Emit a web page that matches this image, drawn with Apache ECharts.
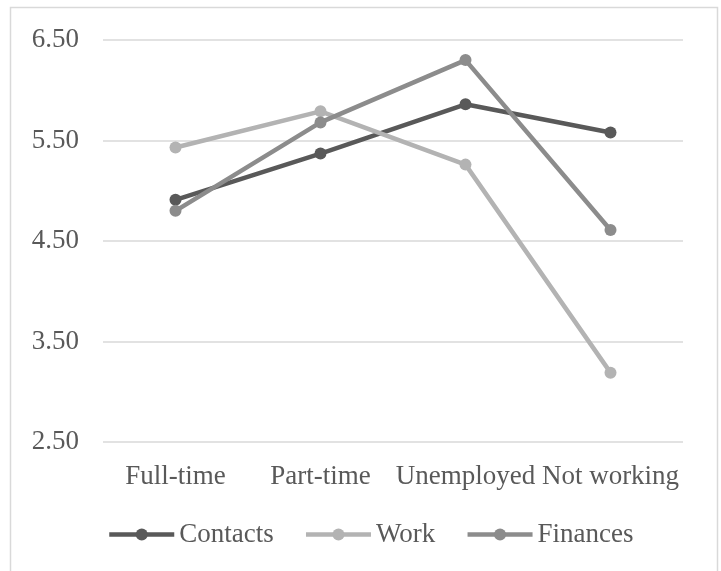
<!DOCTYPE html>
<html>
<head>
<meta charset="utf-8">
<script src="https://cdn.jsdelivr.net/npm/echarts@6/dist/echarts.min.js"></script>
<style>html,body{margin:0;padding:0;background:#fff}#c{width:721px;height:571px}</style>
</head>
<body>
<div id="c"></div>
<script>
var categories = ['Full-time', 'Part-time', 'Unemployed', 'Not working'];
var contacts = [4.91, 5.37, 5.86, 5.58];
var work = [5.43, 5.79, 5.26, 3.19];
var finances = [4.80, 5.68, 6.30, 4.61];
var yTicks = [2.5, 3.5, 4.5, 5.5, 6.5];

var FONT = 'Liberation Serif';
var TXT = '#595959';
var chart = echarts.init(document.getElementById('c'), null, {renderer: 'canvas'});
function mk(name, data, color) {
  return {
    name: name, type: 'line', data: data,
    symbol: 'circle', symbolSize: 12,
    lineStyle: {width: 4.5, color: color},
    itemStyle: {color: color},
    emphasis: {disabled: true},
    animation: false
  };
}
chart.setOption({
  animation: false,
  textStyle: {fontFamily: FONT},
  graphic: [{
    type: 'rect', shape: {x: 10.5, y: 7.5, width: 707, height: 600},
    style: {fill: 'none', stroke: '#d9d9d9', lineWidth: 1.5}, silent: true
  }],
  grid: {left: 103, right: 38, top: 40, bottom: 129, containLabel: false},
  xAxis: {
    type: 'category', data: categories, boundaryGap: true,
    axisLine: {show: false}, axisTick: {show: false},
    axisLabel: {interval: 0, color: TXT, fontFamily: FONT, fontSize: 27, margin: 21}
  },
  yAxis: {
    type: 'value', min: 2.5, max: 6.5,
    axisLine: {show: false},
    axisTick: {show: false, customValues: yTicks},
    axisLabel: {customValues: yTicks, color: TXT, fontFamily: FONT, fontSize: 27, margin: 24,
      formatter: function (v) { return v.toFixed(2); }},
    splitLine: {lineStyle: {color: '#d9d9d9', width: 1.5}}
  },
  legend: {
    left: 102, top: 516, itemWidth: 65, itemHeight: 15, itemGap: 30,
    lineStyle: {width: 4.5},
    textStyle: {color: TXT, fontFamily: FONT, fontSize: 27},
    data: ['Contacts', 'Work', 'Finances']
  },
  series: [
    mk('Contacts', contacts, '#595959'),
    mk('Work', work, '#b3b3b3'),
    mk('Finances', finances, '#8c8c8c')
  ]
});
</script>
</body>
</html>
